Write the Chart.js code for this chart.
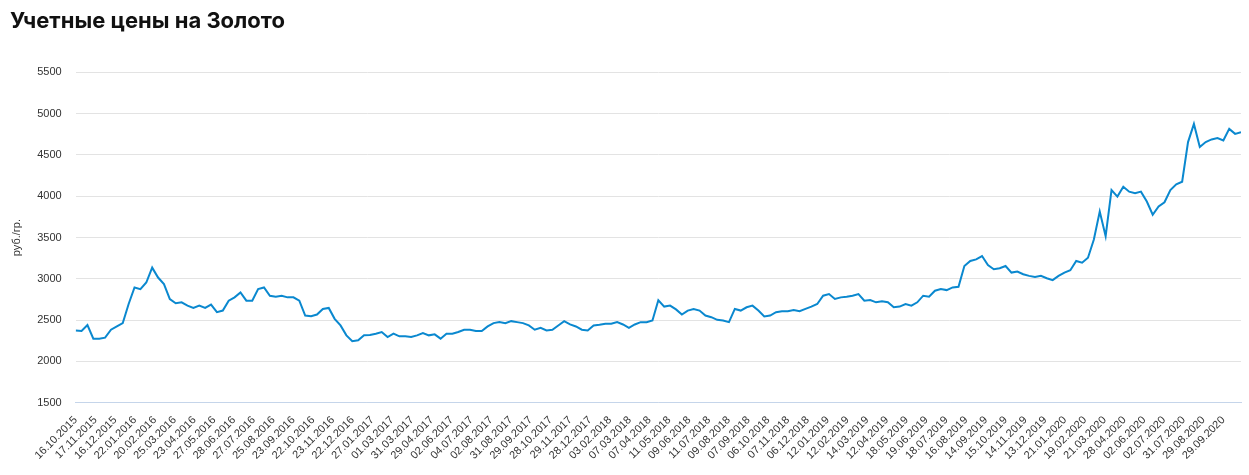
<!DOCTYPE html>
<html>
<head>
<meta charset="utf-8">
<script src="https://cdn.jsdelivr.net/npm/chart.js@4"></script>
<style>
  body { margin: 0; background: #fff; }
  #wrap { width: 1249px; height: 475px; }
</style>
</head>
<body>
<div id="wrap"><canvas id="myChart"></canvas></div>
<script>
const tickLabels = ['16.10.2015','17.11.2015','16.12.2015','22.01.2016','20.02.2016','25.03.2016','23.04.2016','27.05.2016','28.06.2016','27.07.2016','25.08.2016','23.09.2016','22.10.2016','23.11.2016','22.12.2016','27.01.2017','01.03.2017','31.03.2017','29.04.2017','02.06.2017','04.07.2017','02.08.2017','31.08.2017','29.09.2017','28.10.2017','29.11.2017','28.12.2017','03.02.2018','07.03.2018','07.04.2018','11.05.2018','09.06.2018','11.07.2018','09.08.2018','07.09.2018','06.10.2018','07.11.2018','06.12.2018','12.01.2019','12.02.2019','14.03.2019','12.04.2019','18.05.2019','19.06.2019','18.07.2019','16.08.2019','14.09.2019','15.10.2019','14.11.2019','13.12.2019','21.01.2020','19.02.2020','21.03.2020','28.04.2020','02.06.2020','02.07.2020','31.07.2020','29.08.2020','29.09.2020']

// цены, руб./гр.
const prices = [
  2376,2368,2440,2276,2276,2288,2384,2424,2464,2696,
  2896,2876,2956,3136,3016,2936,2756,2704,2716,2676,
  2648,2676,2648,2688,2596,2616,2736,2776,2836,2736,
  2736,2876,2896,2796,2784,2796,2776,2776,2736,2556,
  2548,2568,2636,2648,2516,2436,2316,2244,2256,2316,
  2320,2336,2356,2296,2336,2304,2304,2296,2316,2344,
  2316,2328,2276,2336,2336,2356,2384,2384,2368,2368,
  2424,2464,2476,2464,2488,2476,2464,2436,2384,2408,
  2376,2384,2436,2488,2448,2424,2384,2376,2436,2444,
  2456,2456,2476,2448,2408,2448,2476,2476,2496,2740,
  2664,2676,2630,2568,2616,2636,2616,2556,2536,2504,
  2496,2476,2636,2616,2656,2676,2616,2544,2556,2596,
  2608,2608,2624,2608,2636,2664,2696,2796,2816,2756,
  2776,2784,2796,2816,2736,2744,2716,2728,2716,2656,
  2664,2696,2676,2716,2796,2784,2856,2876,2864,2896,
  2904,3156,3216,3236,3276,3166,3116,3128,3156,3076,
  3088,3056,3036,3024,3036,3008,2984,3036,3076,3104,
  3216,3196,3256,3476,3816,3516,4076,3996,4116,4056,
  4036,4056,3936,3776,3876,3928,4076,4144,4176,4656,
  4876,4596,4656,4688,4704,4676,4816,4756,4776
]

const lastTickPoint = 195  // точка под последней подписью
const points = prices.map((v, i) => ({ x: i * (tickLabels.length - 1) / lastTickPoint, y: v }))

const ctx = document.getElementById('myChart')
new Chart(ctx, {
  type: 'line',
  data: {
    datasets: [{
      data: points,
      borderColor: '#0a88cf',
      borderWidth: 2,
      pointRadius: 0,
      tension: 0
    }]
  },
  options: {
    responsive: true,
    maintainAspectRatio: false,
    animation: false,
    layout: { padding: { left: 10, right: 8, top: 0, bottom: 10 } },
    plugins: {
      legend: { display: false },
      tooltip: { enabled: false },
      title: {
        display: true,
        text: 'Учетные цены на Золото',
        align: 'start',
        color: '#111',
        font: { family: 'Inter', size: 22, weight: 'bold' },
        padding: { top: 8, bottom: 38 }
      }
    },
    scales: {
      x: {
        type: 'linear',
        min: 0,
        max: (prices.length - 1) * (tickLabels.length - 1) / lastTickPoint,
        afterBuildTicks: axis => {
          axis.ticks = tickLabels.map((t, k) => ({ value: k }))
        },
        grid: { display: false },
        border: { color: '#c5d5ea' },
        ticks: {
          autoSkip: false,
          maxRotation: 45,
          minRotation: 45,
          color: '#333',
          font: { family: 'Arial', size: 11 },
          callback: v => tickLabels[v]
        }
      },
      y: {
        min: 1500,
        max: 5500,
        ticks: {
          stepSize: 500, color: '#333', font: { family: 'Arial', size: 11 }, padding: 14,
          callback: v => String(v)
        },
        grid: { color: '#e3e3e3', drawTicks: false },
        border: { display: false },
        title: { display: true, text: 'руб./гр.', color: '#333', font: { family: 'Arial', size: 11 }, padding: 0 }
      }
    }
  }
})
</script>
</body>
</html>
